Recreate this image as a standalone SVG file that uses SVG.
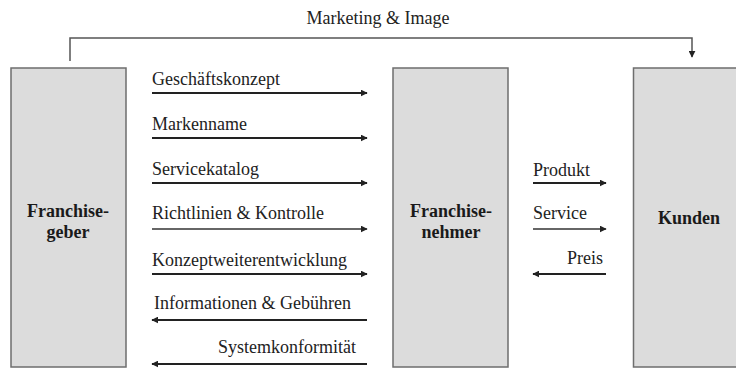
<svg xmlns="http://www.w3.org/2000/svg" width="736" height="368" viewBox="0 0 736 368">
<style>
.box{fill:#dcdcdc;stroke:#6e6e6e;stroke-width:1.5}
.t{font-family:"Liberation Serif","Times New Roman",serif;font-size:18px;fill:#222}
.b{font-family:"Liberation Serif","Times New Roman",serif;font-size:18px;font-weight:bold;fill:#1a1a1a;text-anchor:middle}
.e{text-anchor:end}
.m{text-anchor:middle}
.a{stroke:#222;stroke-width:2;fill:none}
.a2{stroke:#333;stroke-width:1.5;fill:none}
.thin{stroke:#555;stroke-width:1.5;fill:none}
</style>
<defs>
<marker id="ah" viewBox="0 0 10 10" refX="9" refY="5" markerWidth="7" markerHeight="7" markerUnits="userSpaceOnUse" orient="auto">
<path d="M0,0 L10,5 L0,10 z" fill="#222"/>
</marker>
</defs>
<rect width="736" height="368" fill="#fff"/>
<g id="franchisegeber">
<rect class="box" x="11" y="68" width="115" height="299"/>
<text class="b" x="68" y="217">Franchise-</text>
<text class="b" x="68" y="238">geber</text>
</g>
<g id="franchisenehmer">
<rect class="box" x="393" y="68" width="115" height="299"/>
<text class="b" x="451" y="217">Franchise-</text>
<text class="b" x="451" y="238">nehmer</text>
</g>
<g id="kunden">
<rect class="box" x="633.5" y="68" width="110" height="299"/>
<text class="b" x="689" y="224">Kunden</text>
</g>
<g id="connectors">
<path class="thin" d="M70,61 V38 H692 V57" marker-end="url(#ah)"/>
<text class="t m" x="378" y="24">Marketing &amp; Image</text>
<line class="a" x1="152" y1="93" x2="367" y2="93" marker-end="url(#ah)"/>
<text class="t" x="152" y="85">Geschäftskonzept</text>
<line class="a" x1="152" y1="138" x2="367" y2="138" marker-end="url(#ah)"/>
<text class="t" x="152" y="130">Markenname</text>
<line class="a" x1="152" y1="183" x2="367" y2="183" marker-end="url(#ah)"/>
<text class="t" x="152" y="175">Servicekatalog</text>
<line class="a2" x1="152" y1="229" x2="367" y2="229" marker-end="url(#ah)"/>
<text class="t" x="152" y="219">Richtlinien &amp; Kontrolle</text>
<line class="a" x1="152" y1="274" x2="367" y2="274" marker-end="url(#ah)"/>
<text class="t" x="152" y="266">Konzeptweiterentwicklung</text>
<line class="a" x1="367" y1="320" x2="152" y2="320" marker-end="url(#ah)"/>
<text class="t" x="154" y="309">Informationen &amp; Gebühren</text>
<line class="a" x1="367" y1="364" x2="152" y2="364" marker-end="url(#ah)"/>
<text class="t e" x="356" y="353">Systemkonformität</text>
<line class="a" x1="533" y1="183" x2="606" y2="183" marker-end="url(#ah)"/>
<text class="t" x="533" y="176">Produkt</text>
<line class="a2" x1="533" y1="229" x2="606" y2="229" marker-end="url(#ah)"/>
<text class="t" x="533" y="219">Service</text>
<line class="a" x1="606" y1="274" x2="533" y2="274" marker-end="url(#ah)"/>
<text class="t e" x="603" y="264">Preis</text>
</g>
</svg>
